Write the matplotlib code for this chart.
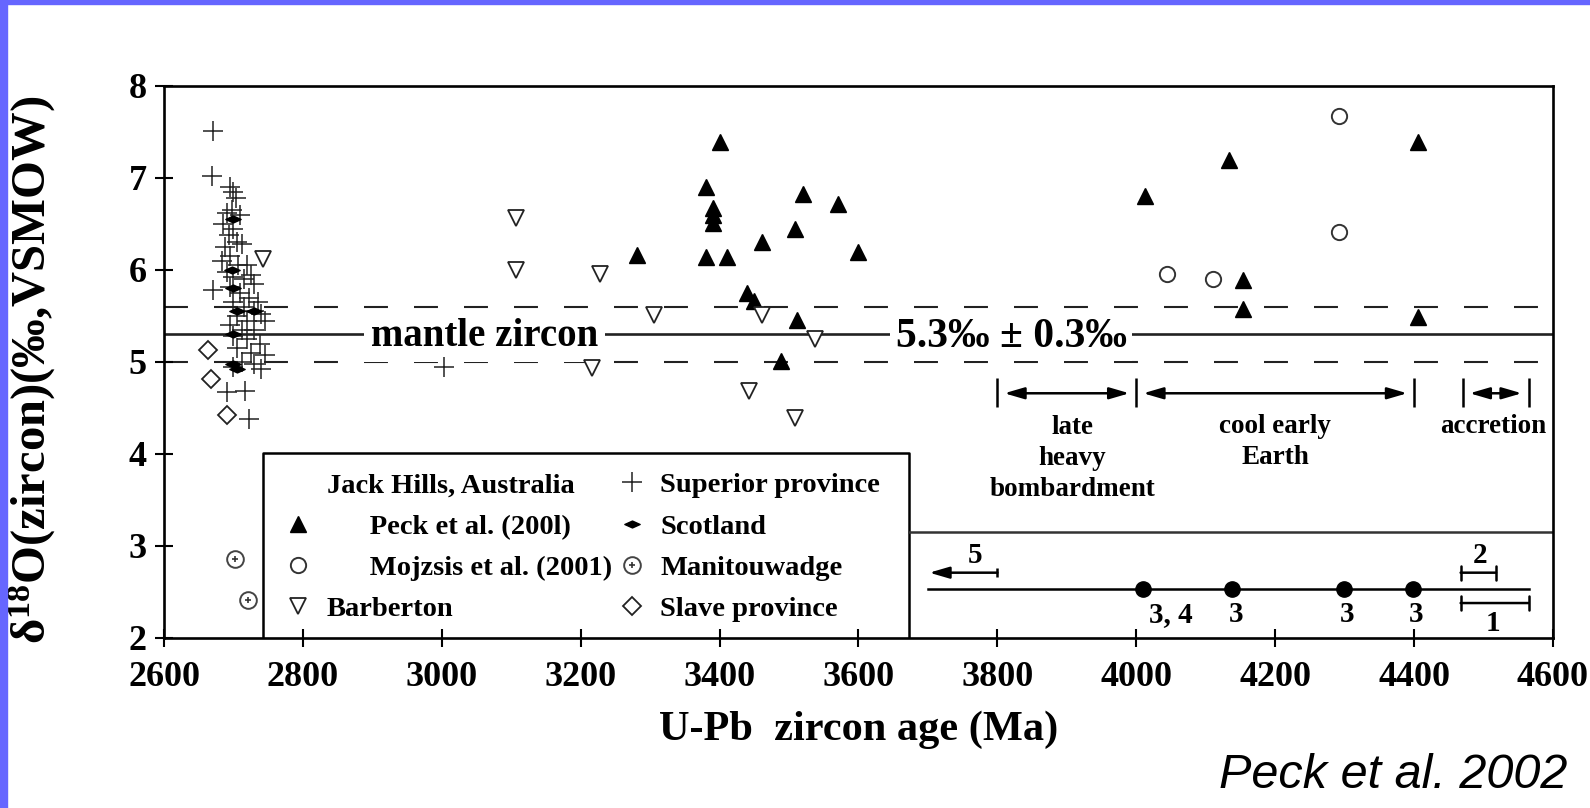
import matplotlib
matplotlib.use('Agg')
import matplotlib.pyplot as plt
from matplotlib.path import Path
from matplotlib.patches import Rectangle
from matplotlib.lines import Line2D
from matplotlib.legend_handler import HandlerTuple

plt.rcParams['font.family'] = ['Liberation Serif', 'DejaVu Serif']
plt.rcParams['font.weight'] = 'bold'
plt.rcParams['mathtext.fontset'] = 'custom'
plt.rcParams['mathtext.rm'] = 'Liberation Serif:bold'
plt.rcParams['mathtext.it'] = 'Liberation Serif:bold:italic'
plt.rcParams['mathtext.bf'] = 'Liberation Serif:bold'

# ---------------- data ----------------
peck_age = [3401, 3381, 3391, 3390, 3390, 3381, 3410, 3281, 3461, 3520, 3570, 3509,
            3599, 3439, 3449, 3511, 3489, 4405, 4133, 4013, 4153, 4153, 4405]
peck_d18o = [7.39, 6.90, 6.67, 6.60, 6.51, 6.14, 6.14, 6.16, 6.30, 6.83, 6.72, 6.45,
             6.20, 5.75, 5.66, 5.46, 5.01, 7.39, 7.20, 6.80, 5.89, 5.58, 5.49]

mojzsis_age = [4292, 4292, 4044, 4110]
mojzsis_d18o = [7.67, 6.41, 5.96, 5.90]

barberton_age = [2743, 3107, 3107, 3228, 3305, 3461, 3538, 3216, 3443, 3508]
barberton_d18o = [6.12, 6.56, 6.00, 5.96, 5.51, 5.51, 5.25, 4.93, 4.68, 4.39]

superior_age = [2670, 2669, 2695, 2700, 2703, 2690, 2698, 2710, 2685, 2700, 2693, 2705,
                2688, 2712, 2695, 2683, 2706, 2720, 2690, 2700, 2715, 2725, 2730, 2695,
                2671, 2710, 2722, 2735, 2700, 2715, 2730, 2740, 2705, 2720, 2745, 2695,
                2712, 2730, 2700, 2720, 2738, 2705, 2725, 2745, 2712, 2730, 2700, 2740,
                2690, 2716, 2722, 3003]
superior_d18o = [7.51, 7.02, 6.90, 6.85, 6.78, 6.62, 6.65, 6.60, 6.50, 6.45, 6.38, 6.30,
                 6.25, 6.28, 6.15, 6.10, 6.05, 6.05, 5.98, 5.92, 5.90, 5.95, 5.85, 5.82,
                 5.78, 5.75, 5.70, 5.65, 5.65, 5.60, 5.55, 5.52, 5.50, 5.45, 5.45, 5.40,
                 5.35, 5.35, 5.28, 5.25, 5.20, 5.15, 5.10, 5.08, 5.00, 4.98, 4.95, 4.92,
                 4.67, 4.69, 4.38, 4.95]

scotland_age = [2700, 2698, 2700, 2705, 2730, 2700, 2700, 2705]
scotland_d18o = [6.55, 6.00, 5.80, 5.55, 5.55, 5.30, 4.98, 4.92]

manitou_age = [2702, 2721]
manitou_d18o = [2.86, 2.41]

slave_age = [2664, 2668, 2690]
slave_d18o = [5.13, 4.81, 4.42]

mantle_mean = 5.3
mantle_sd = 0.3

era_bounds = [3800, 4000, 4400, 4470, 4565]
era_spans = [(3800, 4000), (4000, 4400), (4470, 4565)]
era_labels = ['late\nheavy\nbombardment', 'cool early\nEarth', 'accretion']
era_label_x = [3908, 4200, 4514]

timeline_ages = [4010, 4138, 4299, 4398]
timeline_labels = ['3, 4', '3', '3', '3']

x_ticks = list(range(2600, 4601, 200))
y_ticks = [2, 3, 4, 5, 6, 7, 8]

# ---------------- figure ----------------
W, H = 1590, 808
fig = plt.figure(figsize=(W / 100, H / 100), dpi=100)
fig.patch.set_facecolor('white')
blue = '#6666ff'
fig.patches.append(Rectangle((0, 0), 7 / W, 1, transform=fig.transFigure, color=blue, zorder=0))
fig.patches.append(Rectangle((0, 1 - 4 / H), 1, 4 / H, transform=fig.transFigure, color=blue, zorder=0))

ax = fig.add_axes([164 / W, 1 - 638 / H, (1553 - 164) / W, (638 - 86) / H])
ax.set_xlim(2600, 4600)
ax.set_ylim(2, 8)
ax.set_xticks(x_ticks)
ax.set_yticks(y_ticks)
for s in ax.spines.values():
    s.set_linewidth(1.9)
ax.tick_params(axis='both', direction='inout', length=13, width=1.5, labelsize=26)
ax.tick_params(axis='x', pad=10)
ax.tick_params(axis='y', pad=6)
for lab in ax.get_xticklabels() + ax.get_yticklabels():
    lab.set_fontweight('bold')

ax.set_xlabel('U-Pb  zircon age (Ma)', fontsize=30.5, fontweight='bold', labelpad=12)
ax.set_ylabel(r'δ$^{18}$O(zircon)(‰,VSMOW)', fontsize=35, fontweight='bold')
ax.yaxis.set_label_coords(-0.0765, 0.486)

# mantle zircon band
ax.axhline(mantle_mean, color='#222222', lw=1.9, zorder=1)
dash = (0, (11.5, 12.5))
ax.axhline(mantle_mean + mantle_sd, color='#222222', lw=1.5, ls=dash, zorder=1)
ax.axhline(mantle_mean - mantle_sd, color='#222222', lw=1.5, ls=dash, zorder=1)
ax.text(3061, mantle_mean + 0.03, 'mantle zircon', ha='center', va='center_baseline', fontsize=28,
        fontweight='bold', zorder=2, bbox=dict(fc='white', ec='none', pad=5))
ax.text(3820, mantle_mean + 0.02, '5.3‰ ± 0.3‰', ha='center', va='center_baseline', fontsize=30,
        fontweight='bold', zorder=2, bbox=dict(fc='white', ec='none', pad=4))

# data markers
h_peck, = ax.plot(peck_age, peck_d18o, ls='none', marker='^', ms=12, color='black', zorder=4)
h_moj, = ax.plot(mojzsis_age, mojzsis_d18o, ls='none', marker='o', ms=11, mfc='white',
                 mec='#333333', mew=1.4, zorder=4)
h_barb, = ax.plot(barberton_age, barberton_d18o, ls='none', marker='v', ms=12, mfc='white',
                  mec='#222222', mew=1.3, zorder=4)
h_sup, = ax.plot(superior_age, superior_d18o, ls='none', marker='+', ms=14, mec='#222222',
                 mew=1.1, zorder=3)
wide_diamond = Path([(-1, 0), (0, 0.45), (1, 0), (0, -0.45), (-1, 0)],
                    [Path.MOVETO, Path.LINETO, Path.LINETO, Path.LINETO, Path.CLOSEPOLY])
h_scot, = ax.plot(scotland_age, scotland_d18o, ls='none', marker=wide_diamond, ms=11,
                  color='black', zorder=4)
h_man1, = ax.plot(manitou_age, manitou_d18o, ls='none', marker='o', ms=12, mfc='white',
                  mec='#444444', mew=1.4, zorder=4)
h_man2, = ax.plot(manitou_age, manitou_d18o, ls='none', marker='+', ms=5, mec='#333333',
                  mew=1.2, zorder=5)
h_slave, = ax.plot(slave_age, slave_d18o, ls='none', marker='D', ms=9, mfc='white',
                   mec='#222222', mew=1.3, zorder=4)

# legend frame and lower-right panel
ax.plot([2743, 2743, 3673, 3673], [2, 4.01, 4.01, 2], color='black', lw=1.8, zorder=2)
ax.plot([3673, 4600], [3.15, 3.15], color='#333333', lw=1.8, zorder=2)
ax.add_patch(Rectangle((2743, 2), 930, 2.01, fc='white', ec='none', zorder=1.5))

blank = Line2D([], [], ls='none')
handles = [blank, h_peck, h_moj, h_barb, h_sup, h_scot, (h_man1, h_man2), h_slave]
labels = ['Jack Hills, Australia', '      Peck et al. (200l)', '      Mojzsis et al. (2001)',
          'Barberton', 'Superior province', 'Scotland', 'Manitouwadge', 'Slave province']
leg = ax.legend(handles, labels, ncol=2, loc='upper left', bbox_to_anchor=(0.0864, 0.300),
                frameon=False, fontsize=20.5, borderpad=0, borderaxespad=0,
                handlelength=1.0, handletextpad=0.5, columnspacing=0.2, labelspacing=0.54,
                handler_map={tuple: HandlerTuple(ndivide=1)})
for t in leg.get_texts():
    t.set_fontweight('bold')
leg.set_zorder(6)

# geological eras
ax.vlines(era_bounds, 4.51, 4.83, color='black', lw=1.8)
for a, b in era_spans:
    ax.annotate('', xy=(b, 4.66), xytext=(a, 4.66),
                arrowprops=dict(arrowstyle='<|-|>,head_length=1.2,head_width=0.35',
                                mutation_scale=10, lw=1.8, color='black',
                                shrinkA=5, shrinkB=5))
ax.text(era_label_x[0], 3.95, era_labels[0], ha='center', va='center', fontsize=19.5,
        fontweight='bold', linespacing=1.3)
ax.text(era_label_x[1], 4.13, era_labels[1], ha='center', va='center', fontsize=19.5,
        fontweight='bold', linespacing=1.3)
ax.text(era_label_x[2], 4.30, era_labels[2], ha='center', va='center', fontsize=19.5,
        fontweight='bold')

# timeline of zircon ages
ax.plot([3700, 4565], [2.53, 2.53], color='black', lw=1.8, zorder=3)
ax.plot(timeline_ages, [2.53] * len(timeline_ages), ls='none', marker='o', ms=11,
        color='black', zorder=4)
for xa, lab in zip(timeline_ages, timeline_labels):
    ax.text(xa + (40 if ',' in lab else 5), 2.25, lab, ha='center', va='center',
            fontsize=21, fontweight='bold')

ax.annotate('', xy=(3702, 2.71), xytext=(3800, 2.71),
            arrowprops=dict(arrowstyle='-|>,head_length=1.2,head_width=0.35',
                            mutation_scale=10, lw=1.8, color='black', shrinkA=0, shrinkB=0))
ax.vlines([3800], 2.66, 2.76, color='black', lw=1.8)
ax.text(3768, 2.9, '5', ha='center', va='center', fontsize=21, fontweight='bold')

ax.annotate('', xy=(4518, 2.71), xytext=(4467, 2.71),
            arrowprops=dict(arrowstyle='|-|,widthA=0.5,widthB=0.5', mutation_scale=10,
                            lw=1.8, color='black', shrinkA=0, shrinkB=0))
ax.text(4495, 2.9, '2', ha='center', va='center', fontsize=21, fontweight='bold')
ax.annotate('', xy=(4565, 2.38), xytext=(4467, 2.38),
            arrowprops=dict(arrowstyle='|-|,widthA=0.5,widthB=0.5', mutation_scale=10,
                            lw=1.8, color='black', shrinkA=0, shrinkB=0))
ax.text(4514, 2.16, '1', ha='center', va='center', fontsize=21, fontweight='bold')

fig.text(0.9855, 1 - 776 / H, 'Peck et al. 2002', ha='right', va='center', fontsize=35,
         family='Liberation Sans', style='italic', fontweight='normal')

fig.savefig('out.png', dpi=100, facecolor='white')
